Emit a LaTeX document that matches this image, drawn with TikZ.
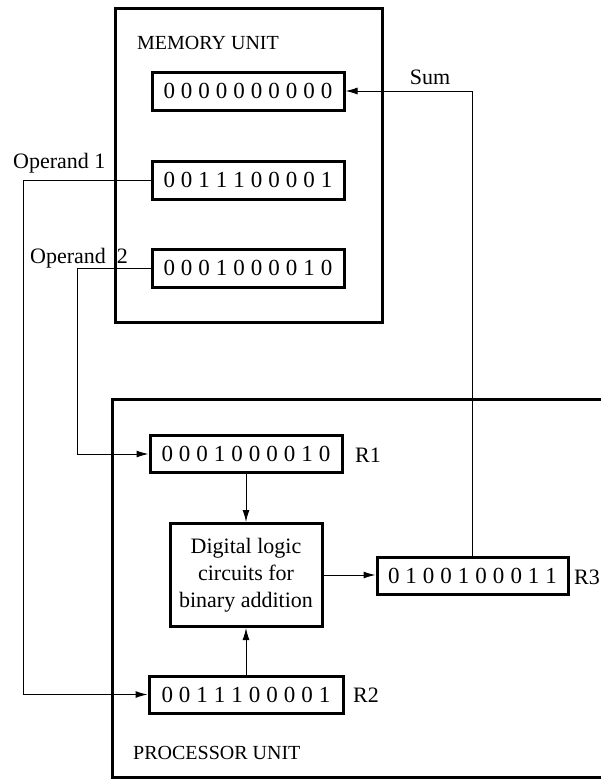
\documentclass[tikz,border=0pt]{standalone}
\usepackage{fontspec}
\setmainfont{Liberation Serif}
\usetikzlibrary{arrows.meta}
\def\bitsA#1{\ifx#1\relax\else\makebox[17.5pt]{#1}\expandafter\bitsA\fi}
\newcommand\regbits[1]{\bitsA#1\relax}
\begin{document}
\begin{tikzpicture}[x=1pt,y=-1pt,
  reg/.style={draw, line width=3pt, minimum width=192pt, minimum height=38pt, inner sep=0pt, font=\fontsize{23}{27}\selectfont},
  unitbox/.style={draw, line width=3pt},
  conn/.style={line width=1pt},
  arr/.style={conn, -{Latex[length=12pt,width=7pt]}},
  lbl/.style={inner sep=0pt, font=\fontsize{22}{26}\selectfont},
  caps/.style={inner sep=0pt, font=\fontsize{20}{24}\selectfont}]
\useasboundingbox (0,0) rectangle (601,780);
% memory unit
\node[unitbox, minimum width=267pt, minimum height=314pt, inner sep=0pt] (mem) at (248.5,165) {};
\node[caps, anchor=west] (memlbl) at (137,43) {MEMORY UNIT};
\node[reg] (m0) at (248,91) {\regbits{0000000000}};
\node[reg] (m1) at (248,180) {\regbits{0011100001}};
\node[reg] (m2) at (248,268) {\regbits{0001000010}};
% processor unit
\draw[unitbox] (601,399) -- (112,399) -- (112,777) -- (601,777);
\node[caps, anchor=west] (proclbl) at (133,753) {PROCESSOR UNIT};
\node[reg, minimum height=37pt] (r1) at (246,454) {\regbits{0001000010}};
\node[reg, minimum width=194pt, minimum height=37pt] (r2) at (246,694.5) {\regbits{0011100001}};
\node[reg, minimum width=191pt, minimum height=37pt] (r3) at (472.5,575.5) {\regbits{0100100011}};
\node[draw, line width=3pt, minimum width=152pt, minimum height=103pt, inner sep=0pt, align=center,
      font=\fontsize{22}{27}\selectfont] (logic) at (246,575) {Digital logic\\circuits for\\binary addition};
\node[lbl, anchor=west] (r1l) at (355,455) {R1};
\node[lbl, anchor=west] (r2l) at (353,695) {R2};
\node[lbl, anchor=west] (r3l) at (574,577) {R3};
% labels
\node[lbl] (sum) at (430,77) {Sum};
\node[lbl, anchor=west] (op1) at (13,163) {Operand 1};
\node[lbl, anchor=west] (op2) at (30,258) {Operand\hspace{11pt}2};
% connectors
\coordinate (c1) at (23,180);
\coordinate (c2) at (77,268);
\draw[arr] (r3.north) |- (m0.east);
\draw[arr] (m1.west) -- (c1) |- (r2.west);
\draw[arr] (m2.west) -- (c2) |- (r1.west);
\draw[arr] (r1.south) -- (logic.north);
\draw[arr] (r2.north) -- (logic.south);
\draw[arr] (logic.east) -- (logic.east -| r3.west);
\end{tikzpicture}
\end{document}
